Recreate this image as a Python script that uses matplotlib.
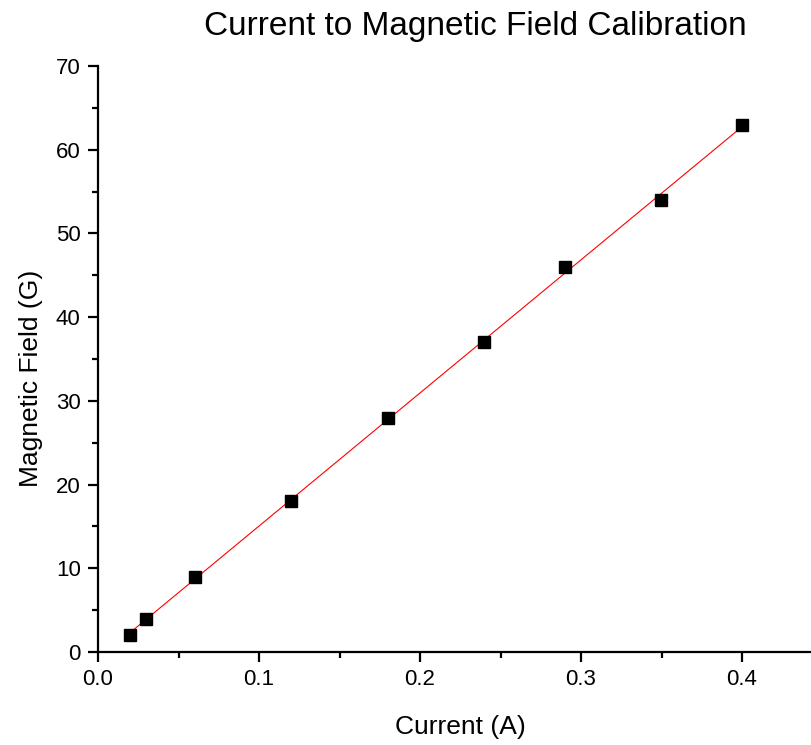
import numpy as np
from matplotlib import pyplot as plt
from matplotlib.ticker import MultipleLocator

current = [0.02, 0.03, 0.06, 0.12, 0.18, 0.24, 0.29, 0.35, 0.40]
field = [2, 4, 9, 18, 28, 37, 46, 54, 63]

plt.rcParams['font.family'] = ['Liberation Sans', 'DejaVu Sans']

fig = plt.figure(figsize=(8.12, 7.45), dpi=100)
ax = fig.add_axes([98 / 812, 93 / 745, 724.5 / 812, 586 / 745])

# linear fit
slope, intercept = np.polyfit(current, field, 1)
fitX = np.array([min(current), max(current)])
ax.plot(fitX, slope * fitX + intercept, color='red', lw=0.8, zorder=2)
ax.plot(current, field, 's', color='black', markersize=9, zorder=3)

ax.set_xlim(0, 0.45)
ax.set_ylim(0, 70)
ax.xaxis.set_major_locator(MultipleLocator(0.1))
ax.xaxis.set_minor_locator(MultipleLocator(0.05))
ax.yaxis.set_major_locator(MultipleLocator(10))
ax.yaxis.set_minor_locator(MultipleLocator(5))
ax.xaxis.set_major_formatter(plt.FormatStrFormatter('%.1f'))

for side in ['top', 'right']:
    ax.spines[side].set_visible(False)
for side in ['left', 'bottom']:
    ax.spines[side].set_linewidth(1.6)

ax.tick_params(which='major', direction='out', length=7.5, width=1.6, labelsize=16, pad=5)
ax.tick_params(which='minor', direction='out', length=4.5, width=1.6)

ax.set_xlabel('Current (A)', fontsize=19, labelpad=18)
ax.set_ylabel('Magnetic Field (G)', fontsize=19)
ax.yaxis.set_label_coords(-0.076, 0.4676)
fig.text(475 / 812, 1 - 27 / 745, 'Current to Magnetic Field Calibration',
         fontsize=24, ha='center', va='center')

plt.savefig('out.png')
